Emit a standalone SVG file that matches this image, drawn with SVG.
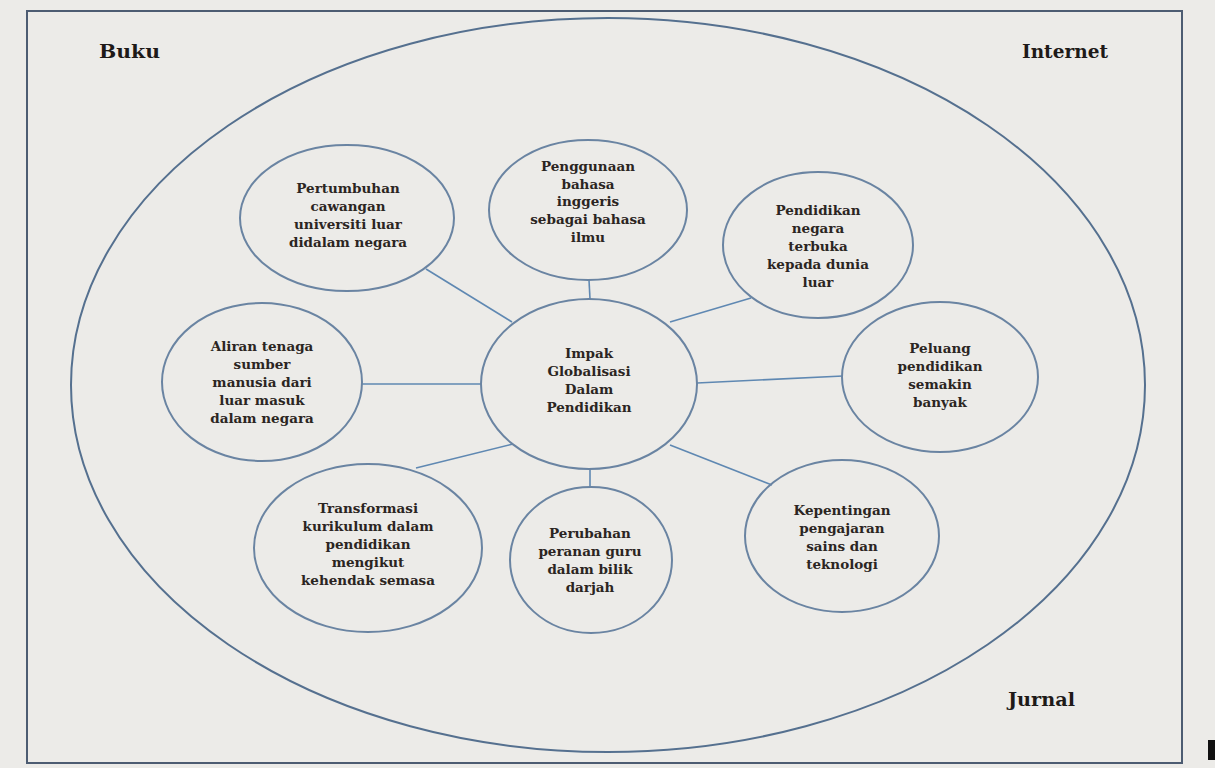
<svg xmlns="http://www.w3.org/2000/svg" width="1215" height="768" viewBox="0 0 1215 768">
<style>
.bg{fill:#ecebe8}
.frame{fill:none;stroke:#4d5c72;stroke-width:2}
.outer{fill:none;stroke:#55708f;stroke-width:2}
.node{fill:none;stroke:#6a84a2;stroke-width:2}
.conn{stroke:#5f88b2;stroke-width:1.6;fill:none}
.t{font-family:"DejaVu Serif","Liberation Serif",serif;font-weight:bold;font-size:13.5px;fill:#2b2522;text-anchor:middle}
.lbl{font-family:"DejaVu Serif","Liberation Serif",serif;font-weight:bold;font-size:19px;fill:#1e1a18}
</style>
<rect class="bg" x="0" y="0" width="1215" height="768"/>
<rect class="frame" x="27" y="11" width="1155" height="752"/>
<rect x="1208" y="740" width="7" height="20" fill="#111"/>
<ellipse class="outer" cx="608" cy="385" rx="537" ry="367"/>
<text class="lbl" x="99" y="58" textLength="61" lengthAdjust="spacingAndGlyphs">Buku</text>
<text class="lbl" x="1022" y="58" textLength="86" lengthAdjust="spacingAndGlyphs">Internet</text>
<text class="lbl" x="1008" y="706" textLength="67" lengthAdjust="spacingAndGlyphs">Jurnal</text>
<g id="connectors">
<line class="conn" x1="589" y1="280" x2="590" y2="299"/>
<line class="conn" x1="426" y1="269" x2="512" y2="322"/>
<line class="conn" x1="670" y1="322" x2="751" y2="298"/>
<line class="conn" x1="697" y1="383" x2="843" y2="376"/>
<line class="conn" x1="362" y1="384" x2="482" y2="384"/>
<line class="conn" x1="416" y1="468" x2="513" y2="444"/>
<line class="conn" x1="590" y1="468" x2="590" y2="488"/>
<line class="conn" x1="670" y1="445" x2="772" y2="485"/>
</g>
<g id="center">
<ellipse class="node" cx="589" cy="384" rx="108" ry="85"/>
<text class="t"><tspan x="589" y="358">Impak</tspan><tspan x="589" y="376">Globalisasi</tspan><tspan x="589" y="394">Dalam</tspan><tspan x="589" y="412">Pendidikan</tspan></text>
</g>
<g id="n-top">
<ellipse class="node" cx="588" cy="210" rx="99" ry="70"/>
<text class="t"><tspan x="588" y="171">Penggunaan</tspan><tspan x="588" y="189">bahasa</tspan><tspan x="588" y="206">inggeris</tspan><tspan x="588" y="224">sebagai bahasa</tspan><tspan x="588" y="242">ilmu</tspan></text>
</g>
<g id="n-topleft">
<ellipse class="node" cx="347" cy="218" rx="107" ry="73"/>
<text class="t"><tspan x="348" y="193">Pertumbuhan</tspan><tspan x="348" y="211">cawangan</tspan><tspan x="348" y="229">universiti luar</tspan><tspan x="348" y="247">didalam negara</tspan></text>
</g>
<g id="n-topright">
<ellipse class="node" cx="818" cy="245" rx="95" ry="73"/>
<text class="t"><tspan x="818" y="215">Pendidikan</tspan><tspan x="818" y="233">negara</tspan><tspan x="818" y="251">terbuka</tspan><tspan x="818" y="269">kepada dunia</tspan><tspan x="818" y="287">luar</tspan></text>
</g>
<g id="n-right">
<ellipse class="node" cx="940" cy="377" rx="98" ry="75"/>
<text class="t"><tspan x="940" y="353">Peluang</tspan><tspan x="940" y="371">pendidikan</tspan><tspan x="940" y="389">semakin</tspan><tspan x="940" y="407">banyak</tspan></text>
</g>
<g id="n-left">
<ellipse class="node" cx="262" cy="382" rx="100" ry="79"/>
<text class="t"><tspan x="262" y="351">Aliran tenaga</tspan><tspan x="262" y="369">sumber</tspan><tspan x="262" y="387">manusia dari</tspan><tspan x="262" y="405">luar masuk</tspan><tspan x="262" y="423">dalam negara</tspan></text>
</g>
<g id="n-bottomleft">
<ellipse class="node" cx="368" cy="548" rx="114" ry="84"/>
<text class="t"><tspan x="368" y="513">Transformasi</tspan><tspan x="368" y="531">kurikulum dalam</tspan><tspan x="368" y="549">pendidikan</tspan><tspan x="368" y="567">mengikut</tspan><tspan x="368" y="585">kehendak semasa</tspan></text>
</g>
<g id="n-bottom">
<ellipse class="node" cx="591" cy="560" rx="81" ry="73"/>
<text class="t"><tspan x="590" y="538">Perubahan</tspan><tspan x="590" y="556">peranan guru</tspan><tspan x="590" y="574">dalam bilik</tspan><tspan x="590" y="592">darjah</tspan></text>
</g>
<g id="n-bottomright">
<ellipse class="node" cx="842" cy="536" rx="97" ry="76"/>
<text class="t"><tspan x="842" y="515">Kepentingan</tspan><tspan x="842" y="533">pengajaran</tspan><tspan x="842" y="551">sains dan</tspan><tspan x="842" y="569">teknologi</tspan></text>
</g>
</svg>
